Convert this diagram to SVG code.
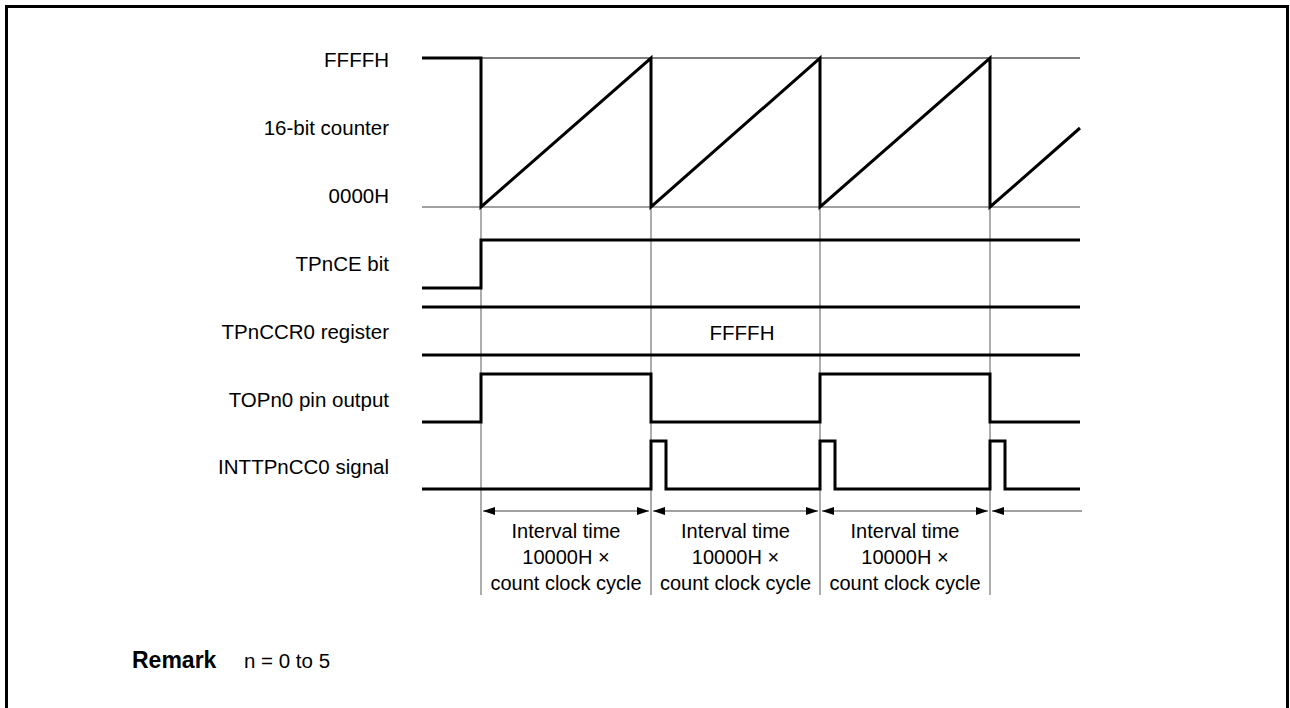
<svg xmlns="http://www.w3.org/2000/svg" width="1290" height="708" viewBox="0 0 1290 708">
<defs>
<style>
.lbl{font-family:"Liberation Sans",Arial,sans-serif;font-size:20.5px;fill:#000;text-anchor:end}
.iv{font-family:"Liberation Sans",Arial,sans-serif;font-size:20px;fill:#000;text-anchor:middle}
.sig{fill:none;stroke:#000;stroke-width:3}
.grid{fill:none;stroke:#808080;stroke-width:1.3}
.dim{fill:none;stroke:#808080;stroke-width:1.5}
</style>
<marker id="ah" viewBox="0 0 12 8" refX="12" refY="4" markerWidth="12" markerHeight="8" markerUnits="userSpaceOnUse" orient="auto-start-reverse">
<path d="M0,0 L12,4 L0,8 Z" fill="#000"/>
</marker>
</defs>
<rect x="6.5" y="6.5" width="1281" height="720" fill="#fff" stroke="#000" stroke-width="3"/>

<g id="labels">
<text class="lbl" x="389" y="67">FFFFH</text>
<text class="lbl" x="389" y="135">16-bit counter</text>
<text class="lbl" x="389" y="203">0000H</text>
<text class="lbl" x="389" y="271">TPnCE bit</text>
<text class="lbl" x="389" y="339">TPnCCR0 register</text>
<text class="lbl" x="389" y="407">TOPn0 pin output</text>
<text class="lbl" x="389" y="474">INTTPnCC0 signal</text>
</g>

<g id="grid">
<line class="grid" x1="422" y1="207" x2="1080" y2="207"/>
<line x1="481" y1="58" x2="1080" y2="58" stroke="#000" stroke-width="1.2"/>
<line class="grid" x1="481" y1="58" x2="481" y2="595"/>
<line class="grid" x1="651" y1="58" x2="651" y2="595"/>
<line class="grid" x1="820" y1="58" x2="820" y2="595"/>
<line class="grid" x1="990" y1="58" x2="990" y2="595"/>
</g>

<g id="counter">
<polyline class="sig" points="422,58 481,58 481,207 651,58 651,207 820,58 820,207 990,58 990,207 1080,128"/>
</g>

<g id="tpnce">
<polyline class="sig" points="422,288 481,288 481,240 1080,240"/>
</g>

<g id="tpnccr0">
<line class="sig" x1="422" y1="307" x2="1080" y2="307"/>
<line class="sig" x1="422" y1="355" x2="1080" y2="355"/>
<text class="iv" x="742" y="340" style="font-size:20.5px">FFFFH</text>
</g>

<g id="topn0">
<polyline class="sig" points="422,422 481,422 481,374 651,374 651,422 820,422 820,374 990,374 990,422 1080,422"/>
</g>

<g id="inttp">
<polyline class="sig" points="422,489 651,489 651,441 666,441 666,489 820,489 820,441 835,441 835,489 990,489 990,441 1005,441 1005,489 1080,489"/>
</g>

<g id="connectors">
<line class="dim" x1="483" y1="511" x2="649" y2="511" marker-start="url(#ah)" marker-end="url(#ah)"/>
<line class="dim" x1="653" y1="511" x2="818" y2="511" marker-start="url(#ah)" marker-end="url(#ah)"/>
<line class="dim" x1="822" y1="511" x2="988" y2="511" marker-start="url(#ah)" marker-end="url(#ah)"/>
<line class="dim" x1="992" y1="511" x2="1082" y2="511" marker-start="url(#ah)"/>
</g>

<g id="interval1">
<text class="iv" x="566" y="538">Interval time</text>
<text class="iv" x="566" y="564">10000H ×</text>
<text class="iv" x="566" y="590">count clock cycle</text>
</g>
<g id="interval2">
<text class="iv" x="735.5" y="538">Interval time</text>
<text class="iv" x="735.5" y="564">10000H ×</text>
<text class="iv" x="735.5" y="590">count clock cycle</text>
</g>
<g id="interval3">
<text class="iv" x="905" y="538">Interval time</text>
<text class="iv" x="905" y="564">10000H ×</text>
<text class="iv" x="905" y="590">count clock cycle</text>
</g>

<g id="remark">
<text x="132" y="668" style="font-family:'Liberation Sans',Arial,sans-serif;font-size:23px;font-weight:bold">Remark</text>
<text x="244" y="668" style="font-family:'Liberation Sans',Arial,sans-serif;font-size:20.5px">n = 0 to 5</text>
</g>
</svg>
